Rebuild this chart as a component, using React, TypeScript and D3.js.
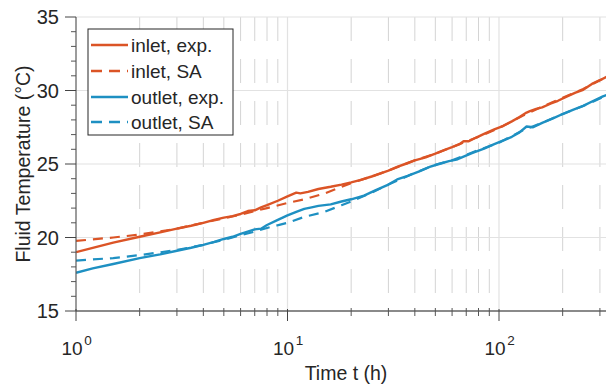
import React from "react";
import * as d3 from "d3";

const W = 606;
const H = 385;

// [time (h), temperature (°C)]
const inletExp: [number, number][] = [
  [1, 19.0], [1.2, 19.3], [1.5, 19.65], [2, 20.05], [2.5, 20.35], [3, 20.6], [3.5, 20.8], [4, 21.0],
  [4.5, 21.2], [5, 21.35], [5.5, 21.45], [6, 21.6], [6.5, 21.8], [7, 21.85], [7.5, 22.05], [8, 22.2],
  [9, 22.5], [10, 22.8], [11, 23.05], [11.5, 23.0], [12.5, 23.1], [14, 23.3], [16, 23.45], [18, 23.6],
  [20, 23.75], [22, 23.9], [25, 24.15], [28, 24.4], [30, 24.55], [33, 24.8], [36, 25.0], [40, 25.25],
  [45, 25.45], [50, 25.7], [55, 25.95], [60, 26.15], [65, 26.35], [68, 26.55], [72, 26.55], [78, 26.8],
  [85, 27.05], [95, 27.35], [105, 27.6], [115, 27.9], [125, 28.2], [135, 28.5], [140, 28.6], [150, 28.75],
  [160, 28.85], [175, 29.1], [190, 29.3], [210, 29.6], [230, 29.85], [250, 30.05], [275, 30.45],
  [300, 30.7], [330, 31.0], [360, 31.3],
];
const inletSA: [number, number][] = [
  [1, 19.77], [1.5, 20.0], [2, 20.2], [3, 20.6], [4, 21.0], [5, 21.3], [6, 21.55], [7, 21.8], [8, 22.0],
  [10, 22.35], [12, 22.6], [15, 23.0], [18, 23.45], [20, 23.7], [25, 24.15], [30, 24.55], [40, 25.25],
  [50, 25.7], [60, 26.15], [80, 26.85], [100, 27.45], [130, 28.3], [160, 28.9], [200, 29.5], [250, 30.1],
  [300, 30.7], [360, 31.25],
];
const outletExp: [number, number][] = [
  [1, 17.6], [1.2, 17.9], [1.5, 18.2], [2, 18.6], [2.5, 18.85], [3, 19.1], [3.5, 19.3], [4, 19.5],
  [4.5, 19.7], [5, 19.9], [5.5, 20.05], [6, 20.25], [7, 20.55], [7.5, 20.6], [8, 20.85], [9, 21.2],
  [10, 21.5], [11, 21.75], [12, 21.95], [13, 22.05], [14, 22.15], [16, 22.25], [18, 22.45], [20, 22.6],
  [23, 22.85], [26, 23.2], [30, 23.6], [33, 23.95], [37, 24.2], [42, 24.5], [47, 24.8], [52, 25.0],
  [58, 25.2], [63, 25.3], [68, 25.5], [75, 25.75], [85, 26.05], [95, 26.35], [105, 26.6], [115, 26.85],
  [125, 27.15], [135, 27.55], [145, 27.5], [160, 27.8], [180, 28.1], [200, 28.4], [225, 28.7],
  [250, 28.95], [280, 29.3], [310, 29.6], [330, 29.75], [360, 30.0],
];
const outletSA: [number, number][] = [
  [1, 18.43], [1.5, 18.6], [2, 18.8], [3, 19.15], [4, 19.5], [5, 19.85], [6, 20.15], [7, 20.4], [8, 20.65],
  [10, 21.0], [12, 21.4], [15, 21.75], [18, 22.2], [20, 22.45], [25, 23.05], [30, 23.6], [40, 24.4],
  [50, 24.95], [60, 25.25], [80, 25.95], [100, 26.45], [130, 27.3], [160, 27.8], [200, 28.4], [250, 28.95],
  [300, 29.45], [360, 30.0],
];

const seriesNames = ["inlet, exp.", "inlet, SA", "outlet, exp.", "outlet, SA"];
const yTicks = [15, 20, 25, 30, 35];
const yMinorTicks = [16, 17, 18, 19, 21, 22, 23, 24, 26, 27, 28, 29, 31, 32, 33, 34];
const xMajorTicks = [1, 10, 100];
const xTickExponents = ["0", "1", "2"];
const xMinorTicks = [2, 3, 4, 5, 6, 7, 8, 9, 20, 30, 40, 50, 60, 70, 80, 90, 200, 300];

const RED = "#DB5426";
const BLUE = "#1E90C2";
const FONT = "'Liberation Sans', Arial, Helvetica, sans-serif";

export default function App() {
  const left = 76;
  const top = 17;
  const bottom = 311;
  const decade = 211.5;
  const right = 616;
  const xMax = Math.pow(10, (right - left) / decade);

  const x = d3.scaleLog().domain([1, xMax]).range([left, right]);
  const y = d3.scaleLinear().domain([15, 35]).range([bottom, top]);

  const line = d3
    .line<[number, number]>()
    .x((d) => x(d[0]))
    .y((d) => y(d[1]));

  const series = [
    { data: inletExp, color: RED, dash: null as string | null, w: 2.4 },
    { data: inletSA, color: RED, dash: "10,7", w: 2.2 },
    { data: outletExp, color: BLUE, dash: null, w: 2.4 },
    { data: outletSA, color: BLUE, dash: "10,7", w: 2.2 },
  ];

  const legendX = 88;
  const legendY = 29;
  const legendW = 145;
  const legendH = 106;
  const rowY = [45, 71, 97, 122];

  return (
    <svg
      width={W}
      height={H}
      style={{ position: "absolute", left: 0, top: 0, background: "#fff" }}
      fontFamily={FONT}
    >
      <defs>
        <clipPath id="plotclip">
          <rect x={left} y={top - 2} width={right - left} height={bottom - top + 2} />
        </clipPath>
      </defs>
      {/* minor vertical grid */}
      {xMinorTicks.map((t) => (
        <line
          key={"mg" + t}
          x1={x(t)}
          x2={x(t)}
          y1={top}
          y2={bottom}
          stroke="#d4d4d4"
          strokeWidth={1}
          strokeDasharray="24,18"
        />
      ))}
      {/* major grid */}
      {xMajorTicks.slice(1).map((t) => (
        <line key={"gx" + t} x1={x(t)} x2={x(t)} y1={top} y2={bottom} stroke="#e2e2e2" strokeWidth={1.2} />
      ))}
      {yTicks.slice(1).map((v) => (
        <line key={"gy" + v} x1={left} x2={right} y1={y(v)} y2={y(v)} stroke="#e2e2e2" strokeWidth={1.2} />
      ))}

      {/* data lines */}
      <g clipPath="url(#plotclip)">
        {series.map((s, i) => (
          <path
            key={i}
            d={line(s.data) || ""}
            fill="none"
            stroke={s.color}
            strokeWidth={s.w}
            strokeDasharray={s.dash || undefined}
            strokeLinejoin="round"
          />
        ))}
      </g>

      {/* axes */}
      <line x1={left} x2={right} y1={bottom} y2={bottom} stroke="#8a8a8a" strokeWidth={1.8} />
      <line x1={left} x2={left} y1={top} y2={bottom} stroke="#5a5a5a" strokeWidth={1.2} />

      {/* x ticks */}
      {xMajorTicks.map((t, i) => (
        <g key={"xt" + t}>
          <line x1={x(t)} x2={x(t)} y1={bottom - 2} y2={bottom + 10} stroke="#444" strokeWidth={1} />
          <text x={x(t) - 4} y={355} textAnchor="middle" fontSize={19} fill="#262626">
            10
          </text>
          <text x={x(t) + 12} y={345} textAnchor="middle" fontSize={13.5} fill="#262626">
            {xTickExponents[i]}
          </text>
        </g>
      ))}
      {xMinorTicks.map((t) => (
        <line key={"xm" + t} x1={x(t)} x2={x(t)} y1={bottom - 3} y2={bottom + 5} stroke="#555" strokeWidth={1} />
      ))}

      {/* y ticks */}
      {yTicks.map((v) => (
        <g key={"yt" + v}>
          <line x1={left - 11} x2={left} y1={y(v)} y2={y(v)} stroke="#444" strokeWidth={1} />
          <text x={59} y={y(v)} dy="0.36em" textAnchor="end" fontSize={20} fill="#262626">
            {v}
          </text>
        </g>
      ))}
      {yMinorTicks.map((v) => (
        <line key={"ym" + v} x1={left - 5} x2={left} y1={y(v)} y2={y(v)} stroke="#555" strokeWidth={1} />
      ))}

      {/* axis labels */}
      <text x={346} y={380} textAnchor="middle" fontSize={19.5} fill="#262626">
        Time t (h)
      </text>
      <text
        transform={`translate(30, ${(top + bottom) / 2}) rotate(-90)`}
        textAnchor="middle"
        fontSize={19.5}
        fill="#262626"
      >
        Fluid Temperature (°C)
      </text>

      {/* legend */}
      <rect x={legendX} y={legendY} width={legendW} height={legendH} fill="#fff" stroke="#262626" strokeWidth={1} />
      {seriesNames.map((name, i) => (
        <g key={"lg" + i}>
          <line
            x1={91}
            x2={128}
            y1={rowY[i]}
            y2={rowY[i]}
            stroke={series[i].color}
            strokeWidth={2.6}
            strokeDasharray={series[i].dash ? "11,7" : undefined}
          />
          <text x={131} y={rowY[i]} dy="0.36em" fontSize={19} fill="#262626">
            {name}
          </text>
        </g>
      ))}
    </svg>
  );
}
